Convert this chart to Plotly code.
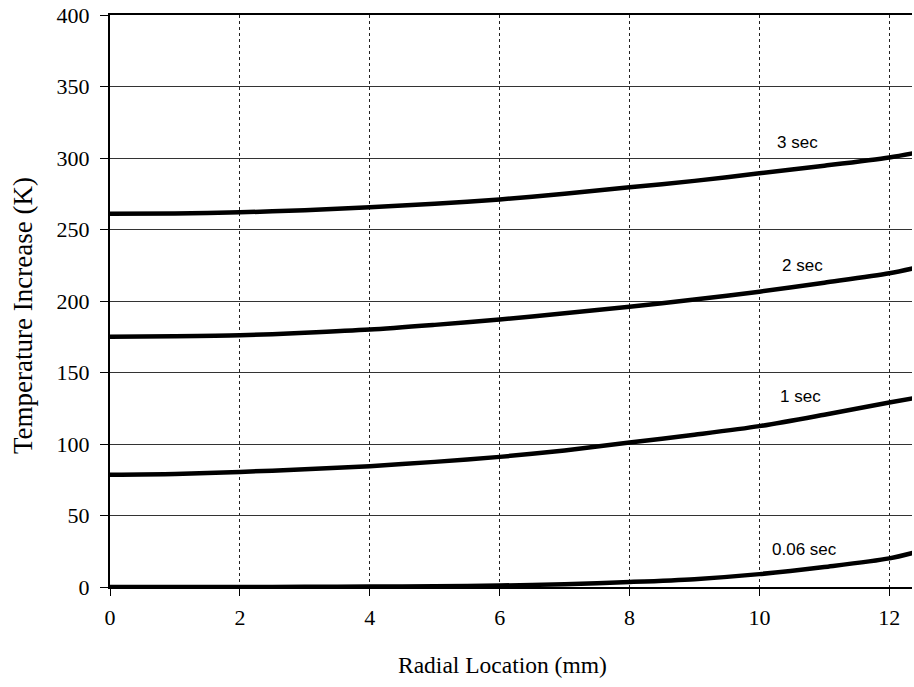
import plotly.graph_objects as go

radial_mm = [0, 1, 2, 3, 4, 5, 6, 7, 8, 9, 10, 11, 12, 12.5]
temp_3s = [261, 261.2, 262, 263.5, 265.5, 268, 271, 275, 279.5, 284, 289.3, 294.6, 300.4, 304.4]
temp_2s = [175, 175.3, 176, 177.8, 180, 183.3, 187, 191.5, 196, 201, 206.5, 212.8, 219.4, 224.2]
temp_1s = [78.5, 79, 80.5, 82.3, 84.5, 87.5, 91, 95.5, 101, 106.5, 112.5, 120.5, 129, 133.1]
temp_006s = [0, 0, 0, 0.1, 0.3, 0.5, 1, 2, 3.5, 5.5, 9, 14, 20, 25.5]

series = [("3 sec", temp_3s), ("2 sec", temp_2s), ("1 sec", temp_1s), ("0.06 sec", temp_006s)]
label_pos = {"3 sec": (10.58, 311), "2 sec": (10.67, 225), "1 sec": (10.63, 133), "0.06 sec": (10.7, 26)}

x_ticks = [0, 2, 4, 6, 8, 10, 12]
y_ticks = [0, 50, 100, 150, 200, 250, 300, 350, 400]
x_title = "Radial Location (mm)"
y_title = "Temperature Increase (K)"

fig = go.Figure()
for name, ys in series:
    fig.add_trace(go.Scatter(x=radial_mm, y=ys, mode="lines", name=name,
                             line=dict(color="black", width=4.5, shape="spline", smoothing=0.8),
                             showlegend=False, hoverinfo="skip"))
    lx, ly = label_pos[name]
    fig.add_annotation(x=lx, y=ly, text=name, showarrow=False,
                       font=dict(family="Liberation Sans, Arial", size=17, color="black"))

# axis titles (placed as annotations to match the original's offset centering)
fig.add_annotation(xref="paper", yref="paper", x=0.4888, y=-0.1364, text=x_title,
                   showarrow=False, xanchor="center", yanchor="middle",
                   font=dict(family="Liberation Serif, Times New Roman", size=23.5, color="black"))
fig.add_annotation(xref="paper", yref="paper", x=-0.1085, y=0.4755, text=y_title,
                   textangle=-90, showarrow=False, xanchor="center", yanchor="middle",
                   font=dict(family="Liberation Serif, Times New Roman", size=27, color="black"))

fig.update_layout(
    width=914, height=687,
    margin=dict(l=110, r=2, t=15, b=100),
    paper_bgcolor="white", plot_bgcolor="white",
    font=dict(family="Liberation Serif, Times New Roman", color="black"),
)
fig.update_xaxes(range=[0, 12.35], tickvals=x_ticks, ticktext=[str(v) for v in x_ticks],
                 showgrid=True, gridcolor="#222", gridwidth=1, griddash="dot",
                 showline=True, mirror=True, linecolor="black", linewidth=2, zeroline=False,
                 ticks="outside", ticklen=7, tickcolor="black", tickwidth=1,
                 ticklabelstandoff=3,
                 tickfont=dict(size=22))
fig.update_yaxes(range=[0, 400], tickvals=y_ticks, ticktext=[str(v) for v in y_ticks],
                 showgrid=True, gridcolor="#333", gridwidth=1,
                 showline=True, linecolor="black", linewidth=2, zeroline=False,
                 ticks="outside", ticklen=8, tickcolor="black", tickwidth=1,
                 ticklabelstandoff=6,
                 tickfont=dict(size=22))

fig.write_html("out.html", config={"displayModeBar": False},
               post_script="document.body.style.margin='0';")
